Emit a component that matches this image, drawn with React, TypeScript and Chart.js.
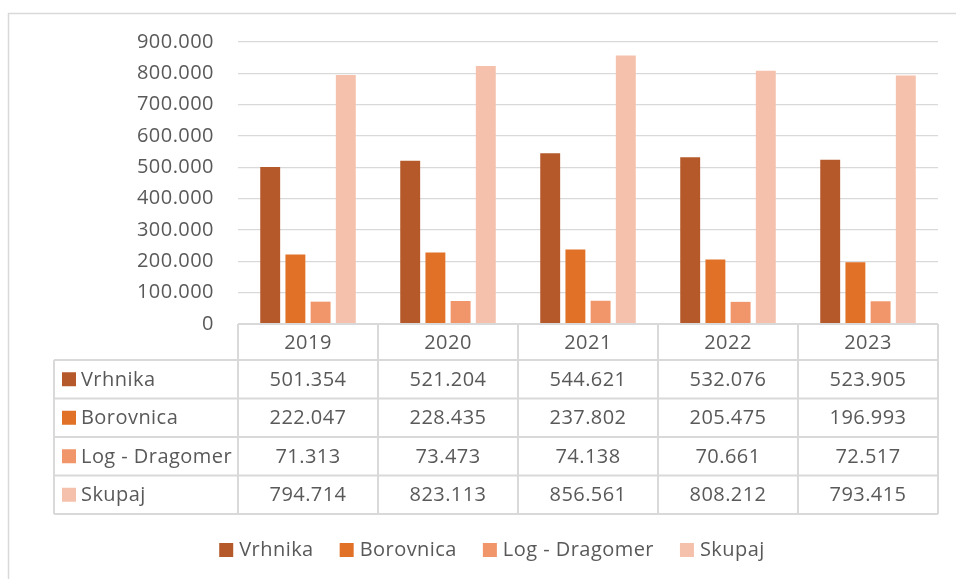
import React, { useEffect, useRef } from "react";
import { Chart, registerables } from "chart.js";

Chart.register(...registerables);

const years = ["2019", "2020", "2021", "2022", "2023"];
const vrhnika = [501354, 521204, 544621, 532076, 523905];
const borovnica = [222047, 228435, 237802, 205475, 196993];
const logDragomer = [71313, 73473, 74138, 70661, 72517];
const skupaj = [794714, 823113, 856561, 808212, 793415];
const seriesNames = ["Vrhnika", "Borovnica", "Log - Dragomer", "Skupaj"];
const seriesColors = ["#B5592A", "#E07126", "#F1956A", "#F5C1AC"];

const FONT = '"Open Sans"';
const TEXT = "#595959";
const LINE = "#D9D9D9";
const SPACING = "0.45px";

const fmt = (v: number) => (v === 0 ? "0" : v.toLocaleString("de-DE"));

const tablePlugin = {
  id: "dataTable",
  beforeDraw(chart: any) {
    const ctx = chart.ctx;
    ctx.save();
    ctx.fillStyle = "#ffffff";
    ctx.fillRect(0, 0, chart.width, chart.height);
    ctx.strokeStyle = LINE;
    ctx.lineWidth = 1.5;
    ctx.strokeRect(8.5, 13.5, chart.width + 20, chart.height + 20);
    ctx.restore();
    (ctx as any).letterSpacing = SPACING;
  },
  afterDraw(chart: any) {
    const ctx = chart.ctx;
    const area = chart.chartArea;
    const xs = chart.scales.x;
    const left = area.left;
    const right = area.right;
    const colW = (right - left) / years.length;
    const top = area.bottom;
    const headerBottom = top + 36;
    const rowH = 38.5;
    const tableLeft = 54;
    const rows = chart.data.datasets.length;
    const bottom = headerBottom + rows * rowH;

    ctx.save();
    (ctx as any).letterSpacing = SPACING;
    ctx.strokeStyle = LINE;
    ctx.lineWidth = 2;
    ctx.beginPath();
    ctx.moveTo(left, top);
    ctx.lineTo(right, top);
    for (let r = 0; r <= rows; r++) {
      const y = headerBottom + r * rowH;
      ctx.moveTo(tableLeft, y);
      ctx.lineTo(right, y);
    }
    for (let c = 0; c <= years.length; c++) {
      const x = left + c * colW;
      ctx.moveTo(x, top);
      ctx.lineTo(x, bottom);
    }
    ctx.moveTo(tableLeft, headerBottom);
    ctx.lineTo(tableLeft, bottom);
    ctx.stroke();

    ctx.fillStyle = TEXT;
    ctx.font = `20px ${FONT}`;
    ctx.textBaseline = "middle";
    ctx.textAlign = "center";
    years.forEach((yr, i) => {
      const cx = xs.getPixelForValue(i);
      ctx.fillText(yr, cx, (top + headerBottom) / 2 + 1);
    });
    chart.data.datasets.forEach((ds: any, r: number) => {
      const cy = headerBottom + r * rowH + rowH / 2 + 1;
      ctx.fillStyle = ds.backgroundColor;
      ctx.fillRect(62, cy - 8, 14, 14);
      ctx.fillStyle = TEXT;
      ctx.textAlign = "left";
      ctx.fillText(ds.label, 81, cy);
      ctx.textAlign = "center";
      ds.data.forEach((v: number, i: number) => {
        ctx.fillText(fmt(v), xs.getPixelForValue(i), cy);
      });
    });

    // legend
    const legendY = 550;
    const items = chart.data.datasets.map((ds: any) => ({
      label: ds.label,
      color: ds.backgroundColor,
      w: ctx.measureText(ds.label).width,
    }));
    const gap = 26;
    const total =
      items.reduce((s: number, it: any) => s + 20 + it.w, 0) + gap * (items.length - 1);
    let x = 492 - total / 2;
    ctx.textAlign = "left";
    items.forEach((it: any) => {
      ctx.fillStyle = it.color;
      ctx.fillRect(x, legendY - 7, 14, 14);
      ctx.fillStyle = TEXT;
      ctx.fillText(it.label, x + 20, legendY);
      x += 20 + it.w + gap;
    });
    ctx.restore();
  },
};

export default function App() {
  const ref = useRef<HTMLCanvasElement>(null);
  useEffect(() => {
    if (!ref.current) return;
    const seriesData = [vrhnika, borovnica, logDragomer, skupaj];
    const chart = new Chart(ref.current, {
      type: "bar",
      data: {
        labels: years,
        datasets: seriesNames.map((n, i) => ({
          label: n,
          data: seriesData[i],
          backgroundColor: seriesColors[i],
          borderWidth: 0,
          categoryPercentage: 0.72,
          barPercentage: 0.79,
        })),
      },
      options: {
        responsive: false,
        animation: false,
        events: [],
        layout: { padding: { left: 0, right: 18, top: 42, bottom: 255 } },
        plugins: { legend: { display: false }, tooltip: { enabled: false } },
        scales: {
          x: { display: false },
          y: {
            min: 0,
            max: 900000,
            afterFit: (s: any) => {
              s.width = 238;
            },
            ticks: {
              stepSize: 100000,
              padding: 24,
              color: TEXT,
              font: { family: "Open Sans", size: 20 },
              callback: (v: any) => fmt(Number(v)),
            },
            grid: { color: LINE, drawTicks: false, lineWidth: 1.3 },
            border: { display: false },
          },
        },
      },
      plugins: [tablePlugin],
    });
    return () => chart.destroy();
  }, []);
  return (
    <div style={{ position: "fixed", left: 0, top: 0, width: 956, height: 579, background: "#fff" }}>
      <canvas ref={ref} width={956} height={579} />
    </div>
  );
}
